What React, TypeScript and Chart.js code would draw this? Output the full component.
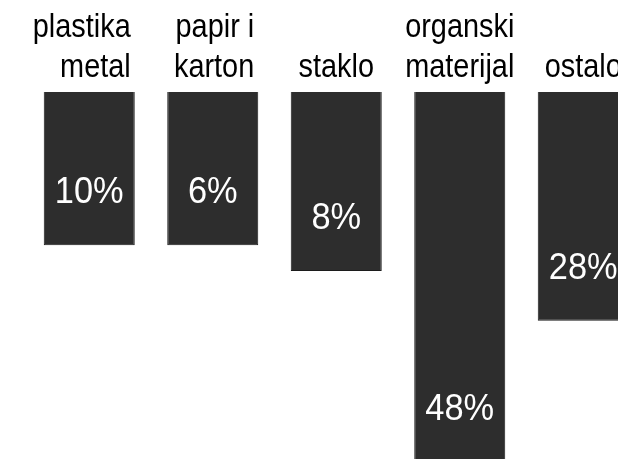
import { useEffect, useRef } from 'react';
import { Chart, registerables } from 'chart.js';

Chart.register(...registerables);

// Category names (each line of the label)
const categories: string[][] = [
  ['plastika', 'metal'],
  ['papir i', 'karton'],
  ['staklo'],
  ['organski', 'materijal'],
  ['ostalo'],
];
// Bar lengths (relative, longest bar = 100)
const barLengths = [41.4, 41.4, 48.4, 100, 61.8];
// Share labels printed inside the bars
const shareLabels = ['10%', '6%', '8%', '48%', '28%'];
// Horizontal alignment of each category caption
const captionAlign: CanvasTextAlign[] = ['right', 'right', 'center', 'center', 'center'];

const CAPTION_SQUEEZE = 0.85;
const SHARE_SQUEEZE = 0.93;
const FONT_FAMILY = '"Liberation Sans", Arial, sans-serif';

const labelsPlugin = {
  id: 'barLabels',
  afterDatasetsDraw(chart: any) {
    const ctx: CanvasRenderingContext2D = chart.ctx;
    const meta = chart.getDatasetMeta(0);
    const top = chart.chartArea.top;
    meta.data.forEach((bar: any, i: number) => {
      const { x, y, width } = bar.getProps(['x', 'y', 'width'], true);
      // caption above the bar
      ctx.save();
      ctx.fillStyle = '#000000';
      ctx.font = `34px ${FONT_FAMILY}`;
      ctx.textBaseline = 'alphabetic';
      const align = captionAlign[i];
      const ax = align === 'right' ? x + width / 2 - 4 : x;
      ctx.translate(ax, 0);
      ctx.scale(CAPTION_SQUEEZE, 1);
      ctx.textAlign = align;
      const lines = categories[i];
      const base = top - 15;
      lines.forEach((ln, k) => {
        ctx.fillText(ln, 0, base - (lines.length - 1 - k) * 40);
      });
      ctx.restore();
      // share label inside the bar, near its end
      ctx.save();
      ctx.fillStyle = '#ffffff';
      ctx.font = `37px ${FONT_FAMILY}`;
      ctx.textAlign = 'center';
      ctx.textBaseline = 'alphabetic';
      ctx.translate(x, y - 42);
      ctx.scale(SHARE_SQUEEZE, 1);
      ctx.fillText(shareLabels[i], 0, 0);
      ctx.restore();
    });
  },
};

export default function App() {
  const canvasRef = useRef<HTMLCanvasElement | null>(null);

  useEffect(() => {
    const canvas = canvasRef.current;
    if (!canvas) return;
    const chart = new Chart(canvas, {
      type: 'bar',
      data: {
        labels: categories.map((c) => c.join(' ')),
        datasets: [
          {
            data: barLengths,
            backgroundColor: '#2d2d2d',
            borderColor: '#1c1c1c',
            borderWidth: 1,
            barPercentage: 0.737,
            categoryPercentage: 1,
          },
        ],
      },
      options: {
        responsive: false,
        animation: false,
        devicePixelRatio: 1,
        layout: { padding: { left: 27.5, right: 15, top: 92, bottom: 8 } },
        scales: {
          x: { display: false, offset: true },
          y: { display: false, reverse: true, min: 0, max: 100 },
        },
        plugins: {
          legend: { display: false },
          tooltip: { enabled: false },
          title: { display: false },
        },
      },
      plugins: [labelsPlugin],
    });
    return () => chart.destroy();
  }, []);

  return (
    <div
      style={{
        position: 'absolute',
        left: 0,
        top: 0,
        width: 618,
        height: 459,
        overflow: 'hidden',
        background: '#ffffff',
      }}
    >
      <canvas ref={canvasRef} width={660} height={470} style={{ display: 'block', width: 660, height: 470 }} />
    </div>
  );
}
